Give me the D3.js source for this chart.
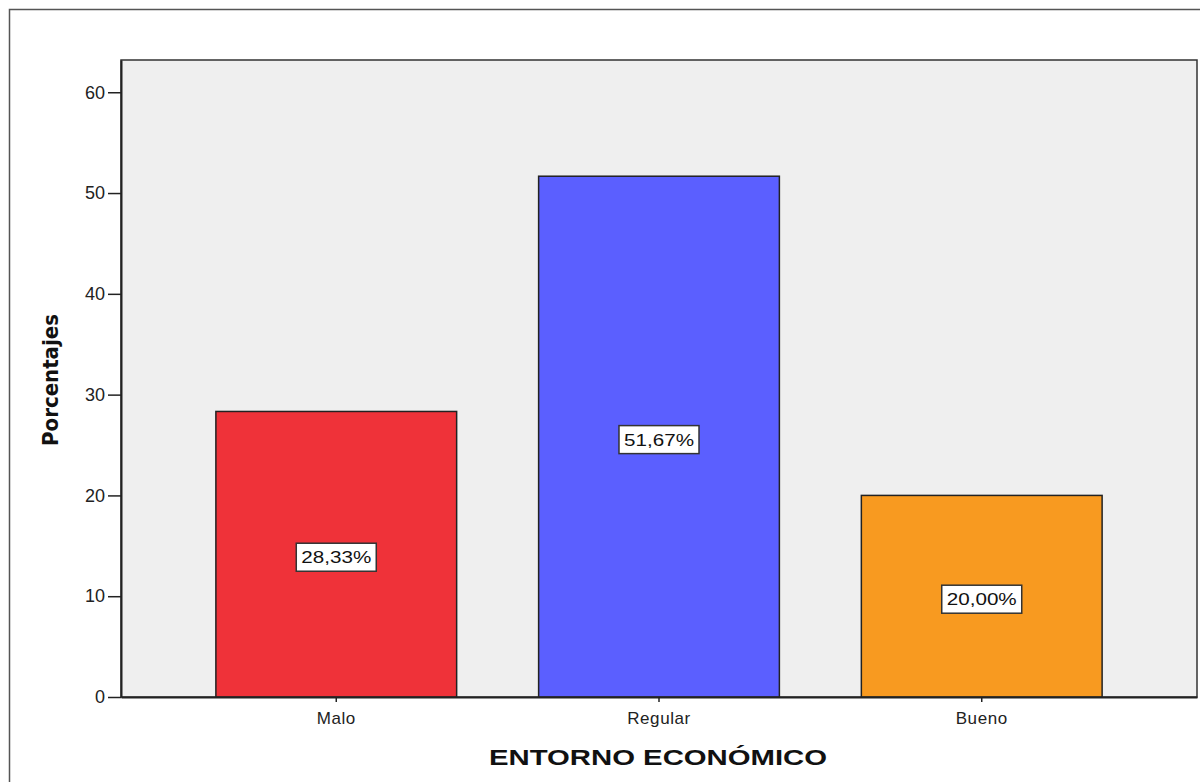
<!DOCTYPE html>
<html>
<head>
<meta charset="utf-8">
<script src="https://cdn.jsdelivr.net/npm/d3@7"></script>
<style>
  html, body { margin: 0; padding: 0; background: #ffffff; }
  svg { display: block; }
</style>
</head>
<body>
<svg id="chart" width="1200" height="782"></svg>
<script>
// Distribución del entorno económico (porcentajes)
const categories = ["Malo", "Regular", "Bueno"];
const percentages = [28.33, 51.67, 20.00];
const barColors = ["#EF3239", "#5B5FFF", "#F89A20"];
const yTicks = [0, 10, 20, 30, 40, 50, 60];

const svg = d3.select("#chart");
const W = 1200, H = 782;
const FONT = "Arial, 'Liberation Sans', sans-serif";

// Outer frame
svg.append("rect")
  .attr("x", 9.5).attr("y", 9.5)
  .attr("width", W).attr("height", H)
  .attr("fill", "#ffffff")
  .attr("stroke", "#555").attr("stroke-width", 1.5);

const plot = { left: 121, top: 60, right: 1197, bottom: 697 };

const y = d3.scaleLinear()
  .domain([0, 63.2])
  .range([plot.bottom, plot.top]);

const x = d3.scaleBand()
  .domain(categories)
  .range([plot.left, plot.right])
  .paddingInner(0.254)
  .paddingOuter(0.294);

// Plot background
svg.append("rect")
  .attr("x", plot.left).attr("y", plot.top)
  .attr("width", plot.right - plot.left)
  .attr("height", plot.bottom - plot.top)
  .attr("fill", "#EFEFEF")
  .attr("stroke", "#333").attr("stroke-width", 1.5);

// Bars
svg.append("g").selectAll("rect")
  .data(categories)
  .join("rect")
  .attr("x", d => x(d))
  .attr("y", (d, i) => y(percentages[i]))
  .attr("width", x.bandwidth())
  .attr("height", (d, i) => y(0) - y(percentages[i]))
  .attr("fill", (d, i) => barColors[i])
  .attr("stroke", "#222").attr("stroke-width", 1.5);

// Y axis
const yAxis = svg.append("g")
  .attr("transform", `translate(${plot.left},0)`)
  .call(d3.axisLeft(y).tickValues(yTicks).tickSize(13).tickSizeOuter(0)
    .tickPadding(3).tickFormat(d3.format("d")));
yAxis.select(".domain").attr("stroke", "#222").attr("stroke-width", 2);
yAxis.selectAll(".tick line").attr("stroke", "#222").attr("stroke-width", 1.5);
yAxis.selectAll(".tick text")
  .attr("font-family", FONT)
  .attr("font-size", 18).attr("fill", "#222");

// X axis
const xAxis = svg.append("g")
  .attr("transform", `translate(0,${plot.bottom})`)
  .call(d3.axisBottom(x).tickSize(5).tickSizeOuter(0).tickPadding(10));
xAxis.select(".domain").attr("stroke", "#222").attr("stroke-width", 2);
xAxis.selectAll(".tick line").attr("stroke", "#222").attr("stroke-width", 1.5);
xAxis.selectAll(".tick text")
  .attr("font-family", FONT)
  .attr("font-size", 17).attr("letter-spacing", 0.6).attr("fill", "#222");

// Value labels in boxes at the middle of each bar
const fmt = v => v.toFixed(2).replace(".", ",") + "%";
const labels = svg.append("g").selectAll("g")
  .data(categories)
  .join("g")
  .attr("transform", (d, i) => `translate(${x(d) + x.bandwidth() / 2},${y(percentages[i] / 2) + 3})`);
labels.append("rect")
  .attr("x", -40).attr("y", -14)
  .attr("width", 80).attr("height", 28)
  .attr("fill", "#ffffff")
  .attr("stroke", "#333").attr("stroke-width", 1.5);
labels.append("text")
  .attr("text-anchor", "middle")
  .attr("dy", "0.36em")
  .attr("font-family", FONT)
  .attr("font-size", 17)
  .attr("textLength", 70)
  .attr("lengthAdjust", "spacingAndGlyphs")
  .attr("fill", "#111")
  .text((d, i) => fmt(percentages[i]));

// Axis titles
svg.append("text")
  .attr("x", (plot.left + plot.right) / 2 - 1)
  .attr("y", 765)
  .attr("text-anchor", "middle")
  .attr("font-family", FONT)
  .attr("font-weight", "bold")
  .attr("font-size", 22)
  .attr("textLength", 338)
  .attr("lengthAdjust", "spacingAndGlyphs")
  .attr("fill", "#111")
  .text("ENTORNO ECONÓMICO");

svg.append("text")
  .attr("transform", `translate(58,380) rotate(-90)`)
  .attr("text-anchor", "middle")
  .attr("font-family", "'Liberation Sans Narrow', 'Arial Narrow', 'DejaVu Sans Condensed', sans-serif")
  .attr("font-weight", "bold")
  .attr("font-size", 22)
  .attr("fill", "#111")
  .text("Porcentajes");
</script>
</body>
</html>
